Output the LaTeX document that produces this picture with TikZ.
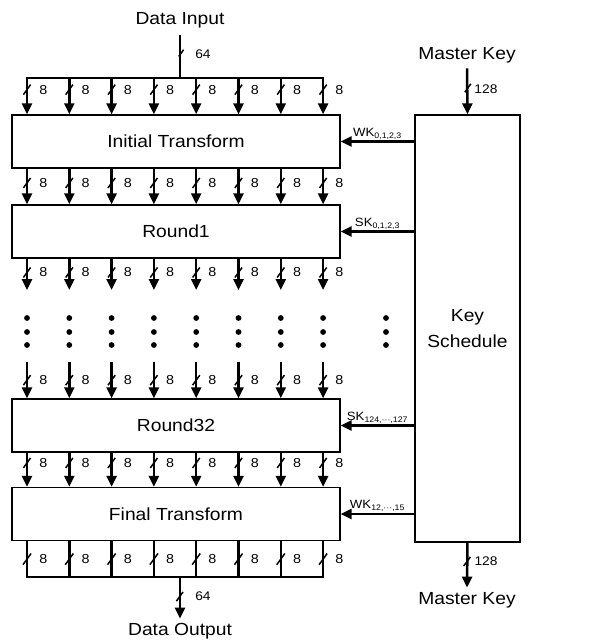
\documentclass[tikz,border=0pt]{standalone}
\usepackage{fontspec}
\setmainfont{Liberation Sans}[FakeStretch=1.1]
\usetikzlibrary{arrows.meta,decorations.markings,calc}
\begin{document}
\begin{tikzpicture}[x=1pt,y=-1pt,
  big/.style={font=\fontsize{17.5}{26}\selectfont},
  blk/.style={draw,line width=1.4pt,minimum width=328pt,minimum height=53pt,inner sep=0pt,big},
  sig/.style={line width=2.5pt,-{Triangle[length=11pt,width=10pt]}},
  busln/.style={line width=2.5pt,line cap=rect},
  sl/.style={postaction={decorate,decoration={markings,mark=at position #1 with {\draw[line width=1.5pt,-] (5pt,-3.6pt) -- (-5pt,3.6pt);}}}},
  n8/.style={right=11pt,inner sep=0pt,font=\fontsize{13}{13}\selectfont},
  nw/.style={right=#1,inner sep=0pt,font=\fontsize{12.5}{12.5}\selectfont},
  klab/.style={above=0.5pt,inner sep=0.5pt,font=\fontsize{12}{12}\selectfont},
  dot/.style={circle,fill,inner sep=0pt,minimum size=5.8pt}
]
\useasboundingbox (0,0) rectangle (613,641);

% blocks
\node[blk] (init) at (176,141.5) {Initial Transform};
\node[blk] (r1) at (176,231.5) {Round1};
\node[blk] (r32) at (176,425.5) {Round32};
\node[blk] (fin) at (176,514) {Final Transform};
\node[draw,line width=1.4pt,minimum width=105pt,minimum height=427pt,inner sep=0pt,big,align=center] (ks) at (467.5,328.5) {Key\\Schedule};

% outer labels
\node[big] (din) at (180,20) {Data Input};
\node[big] (dout) at (180,631) {Data Output};
\node[big] (mk1) at (467,55) {Master Key};
\node[big] (mk2) at (467,600) {Master Key};

\coordinate (bin) at (180,78);
\coordinate (bout) at (180,577);

\foreach \i in {0,...,7} {
  \coordinate (t\i) at ({27+42.3*\i},78);
  \coordinate (u\i) at ({27+42.3*\i},290);
  \coordinate (v\i) at ({27+42.3*\i},362);
  \coordinate (w\i) at ({27+42.3*\i},577);
}

% data input / output buses
\draw[line width=2.5pt,sl=0.5,shorten <=4pt] (din.south) -- node[pos=0.5,nw=14pt]{64} (bin);
\draw[busln] (t0) -- (t7);
\draw[busln] (w0) -- (w7);
\draw[sig,sl=0.45,shorten >=1pt] (bout) -- node[pos=0.45,nw=14pt]{64} (dout.north);

\foreach \i in {0,...,7} {
  \draw[sig,sl=0.32] (t\i) -- node[pos=0.32,n8]{8} (t\i |- init.north);
  \draw[sig,sl=0.4] (t\i |- init.south) -- node[pos=0.4,n8]{8} (t\i |- r1.north);
  \draw[sig,sl=0.44] (t\i |- r1.south) -- node[pos=0.44,n8]{8} (u\i);
  \draw[sig,sl=0.5] (v\i) -- node[pos=0.5,n8]{8} (t\i |- r32.north);
  \draw[sig,sl=0.3] (t\i |- r32.south) -- node[pos=0.3,n8]{8} (t\i |- fin.north);
  \draw[busln,sl=0.5] (t\i |- fin.south) -- node[pos=0.5,n8]{8} (w\i);
  \node[dot] (da\i) at ({27+42.3*\i},318) {};
  \node[dot] (db\i) at ({27+42.3*\i},332) {};
  \node[dot] (dc\i) at ({27+42.3*\i},345) {};
}
\node[dot] (ka) at (386,318) {};
\node[dot] (kb) at (386,332) {};
\node[dot] (kc) at (386,345) {};

% master key
\draw[sig,sl=0.47,shorten <=2pt] (mk1.south) -- node[pos=0.47,nw=6pt]{128} (ks.north);
\draw[sig,sl=0.4,shorten >=1pt] (ks.south) -- node[pos=0.4,nw=6pt]{128} (mk2.north);

% subkeys
\draw[sig] (ks.west |- init.east) -- node[klab]{WK\textsubscript{0,1,2,3}} (init.east);
\draw[sig] (ks.west |- r1.east) -- node[klab]{SK\textsubscript{0,1,2,3}} (r1.east);
\draw[sig] (ks.west |- r32.east) -- node[klab]{SK\textsubscript{124,···,127}} (r32.east);
\draw[sig] (ks.west |- fin.east) -- node[klab]{WK\textsubscript{12,···,15}} (fin.east);
\end{tikzpicture}
\end{document}
